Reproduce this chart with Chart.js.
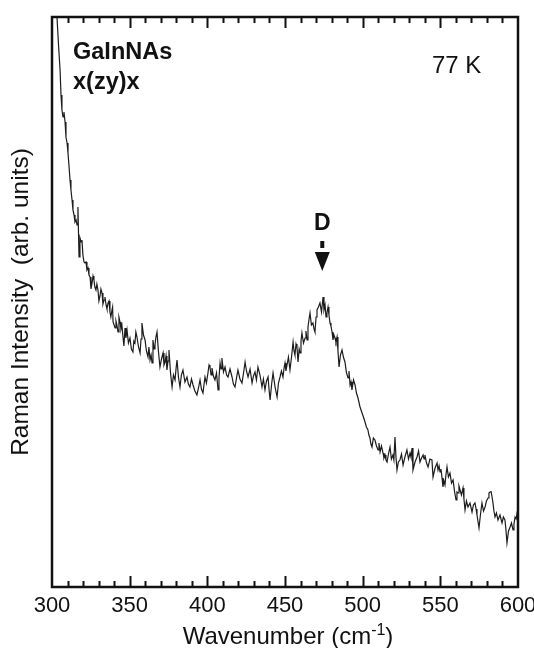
<!DOCTYPE html>
<html>
<head>
<meta charset="utf-8">
<script src="https://cdn.jsdelivr.net/npm/chart.js@4.4.1/dist/chart.umd.min.js"></script>
<style>
    body   { margin: 0; background: #fff; }
    canvas { display: block; }
</style>
</head>
<body>
<canvas id="raman_graph" width="534" height="648"></canvas>
<script>
// Raman spectrum, wavenumber in cm-1, intensity in arb. units
const wavenumbers = [
    301.3, 303.2, 304.2, 305.2, 305.8, 306.4, 307.1, 307.7, 308.4, 309.0,
    309.7, 310.3, 310.9, 311.6, 312.2, 312.9, 313.5, 314.2, 314.8, 315.5,
    316.1, 316.7, 317.4, 318.0, 318.7, 319.3, 319.9, 320.6, 321.2, 321.9,
    322.5, 323.2, 323.8, 324.5, 325.1, 325.8, 326.4, 327.0, 327.6, 328.3,
    328.9, 329.6, 330.2, 330.9, 331.5, 332.2, 332.8, 333.5, 334.1, 334.8,
    335.4, 336.1, 336.7, 337.3, 337.9, 338.6, 339.0, 339.3, 340.0, 340.6,
    341.2, 341.8, 342.5, 343.1, 343.8, 344.4, 345.0, 345.7, 346.3, 347.0,
    347.6, 348.3, 349.2, 350.2, 351.1, 352.1, 352.7, 353.4, 354.0, 354.7,
    355.7, 356.7, 357.3, 357.9, 358.9, 359.9, 360.8, 361.8, 362.4, 363.1,
    363.8, 364.4, 365.0, 365.7, 366.3, 366.9, 367.6, 368.5, 369.5, 370.5,
    371.5, 372.1, 372.8, 373.4, 374.0, 374.7, 375.3, 376.3, 377.3, 378.2,
    379.2, 379.9, 380.5, 381.4, 382.4, 383.3, 384.3, 385.6, 386.9, 387.8,
    388.8, 389.8, 390.8, 392.0, 393.3, 394.3, 395.3, 396.2, 397.2, 397.9,
    398.5, 399.4, 400.4, 401.1, 401.7, 402.4, 403.0, 403.9, 404.9, 405.9,
    406.9, 407.5, 408.2, 408.8, 409.4, 410.4, 411.4, 412.4, 413.3, 414.6,
    415.9, 416.8, 417.8, 418.8, 419.7, 421.0, 422.3, 423.3, 424.3, 425.2,
    426.2, 427.5, 428.8, 429.7, 430.7, 431.6, 432.6, 433.9, 435.2, 436.1,
    437.1, 438.1, 439.1, 439.7, 440.4, 441.4, 442.3, 443.6, 444.9, 445.8,
    446.8, 447.7, 448.7, 449.4, 450.0, 450.6, 451.3, 452.2, 453.2, 454.2,
    455.2, 455.8, 456.4, 457.1, 457.7, 458.4, 459.1, 459.7, 460.3, 460.9,
    461.9, 462.9, 463.5, 464.2, 464.8, 465.5, 466.1, 467.0, 468.0, 468.7,
    469.3, 470.0, 470.6, 471.5, 472.5, 473.5, 474.5, 475.1, 475.8, 476.4,
    477.0, 477.7, 478.3, 479.0, 479.6, 480.3, 480.9, 481.5, 482.2, 482.8,
    483.5, 484.1, 484.8, 485.7, 486.7, 487.6, 488.6, 489.6, 490.6, 491.2,
    491.9, 492.5, 493.1, 494.1, 495.1, 496.0, 497.0, 498.3, 499.6, 500.5,
    501.5, 502.4, 503.4, 504.0, 504.7, 505.3, 506.0, 506.9, 507.9, 508.9,
    509.9, 510.5, 511.2, 512.1, 513.1, 513.7, 514.4, 515.0, 515.7, 516.6,
    517.6, 518.5, 519.5, 520.1, 520.8, 521.4, 522.1, 523.0, 524.0, 525.0,
    526.0, 527.2, 528.5, 529.5, 530.5, 531.1, 531.8, 532.4, 533.7, 535.0,
    536.0, 536.9, 537.9, 538.9, 539.5, 540.1, 541.1, 542.1, 543.3, 544.6,
    545.3, 546.6, 547.9, 548.5, 549.2, 549.8, 550.4, 551.1, 551.7, 552.3,
    553.0, 553.6, 554.3, 555.2, 556.2, 557.2, 558.2, 559.1, 560.1, 560.7,
    561.4, 562.0, 562.7, 563.6, 564.6, 565.2, 565.9, 566.8, 567.8, 569.1,
    570.4, 571.3, 572.3, 573.0, 573.6, 574.2, 574.9, 575.8, 576.8, 577.8,
    578.8, 579.7, 580.7, 581.3, 582.0, 582.6, 583.2, 583.9, 584.5, 585.2,
    586.1, 587.1, 588.4, 589.7, 590.6, 591.6, 592.2, 592.9, 593.9, 594.9,
    595.8, 596.8, 597.4, 598.1, 598.8, 599.4, 600.0
];
const intensities = [
    607, 570, 542, 517, 492, 477, 470, 475, 465, 450,
    444, 434, 422, 407, 397, 387, 377, 372, 365, 367,
    362, 380, 330, 349, 345, 347, 332, 325, 324, 325,
    317, 319, 312, 310, 298, 304, 311, 307, 300, 297,
    303, 297, 286, 291, 298, 294, 283, 287, 290, 282,
    278, 284, 286, 275, 270, 277, 280, 265, 262, 259,
    266, 262, 255, 270, 265, 258, 262, 250, 241, 259,
    249, 257, 244, 249, 238, 235, 246, 244, 255, 250,
    240, 234, 248, 264, 252, 247, 236, 230, 240, 227,
    232, 224, 247, 238, 242, 250, 255, 236, 220, 228,
    234, 222, 225, 231, 217, 226, 237, 214, 200, 212,
    207, 219, 227, 210, 200, 212, 217, 205, 210, 203,
    200, 208, 202, 196, 192, 199, 207, 198, 194, 203,
    210, 204, 214, 222, 220, 212, 219, 211, 207, 214,
    197, 209, 224, 218, 229, 215, 220, 212, 210, 218,
    210, 203, 200, 209, 217, 208, 204, 214, 225, 216,
    210, 218, 204, 211, 215, 207, 220, 212, 200, 208,
    197, 206, 210, 198, 187, 203, 214, 200, 190, 204,
    210, 216, 210, 219, 224, 216, 222, 230, 217, 230,
    245, 236, 232, 243, 240, 225, 238, 234, 246, 254,
    244, 249, 256, 247, 260, 268, 274, 262, 264, 258,
    255, 270, 277, 280, 284, 275, 290, 277, 282, 270,
    274, 280, 272, 264, 261, 255, 247, 252, 249, 245,
    250, 236, 220, 232, 237, 230, 225, 214, 209, 216,
    202, 205, 197, 207, 202, 194, 189, 180, 174, 170,
    165, 160, 157, 152, 149, 143, 140, 149, 147, 141,
    137, 144, 135, 141, 134, 129, 132, 127, 125, 133,
    140, 128, 132, 127, 150, 131, 117, 125, 127, 133,
    122, 130, 137, 128, 134, 130, 139, 117, 125, 130,
    136, 125, 129, 132, 128, 132, 124, 120, 128, 127,
    110, 119, 124, 117, 121, 115, 118, 109, 100, 106,
    102, 112, 120, 110, 114, 104, 107, 96, 87, 95,
    94, 101, 97, 92, 99, 88, 77, 86, 80, 84,
    75, 82, 84, 78, 72, 66, 59, 72, 84, 76,
    80, 86, 89, 94, 95, 96, 91, 84, 76, 70,
    74, 67, 72, 64, 70, 67, 58, 44, 56, 60,
    64, 57, 63, 70, 68, 74, 72
];

const x_min        = 300;
const x_max        = 600;
const y_max        = 570;
const major_step   = 50;
const minor_step   = 10;

const sample_name  = "GaInNAs";
const geometry     = "x(zy)x";
const temperature  = "77 K";
const peak_name    = "D";
const peak_pos     = 474;

const font_family  = "'Liberation Sans', Arial, Helvetica, sans-serif";

// frame, inward ticks top and bottom, labels and the D arrow
const decor_plugin = {
    id: "decor",
    afterDraw(chart){
        const ctx  = chart.ctx;
        const area = chart.chartArea;
        const xs   = chart.scales.x;

        ctx.save();
        ctx.strokeStyle = "#111";
        ctx.lineWidth   = 2;
        for (let v = x_min + minor_step; v < x_max; v += minor_step){
            let px  = Math.round(xs.getPixelForValue(v)) + 0.5;
            let len = (v % major_step === 0) ? 11 : 6;
            ctx.beginPath();
            ctx.moveTo(px, area.bottom);
            ctx.lineTo(px, area.bottom - len);
            ctx.moveTo(px, area.top);
            ctx.lineTo(px, area.top + len);
            ctx.stroke();
        }
        ctx.lineWidth = 2.5;
        ctx.strokeRect(area.left, area.top, area.right - area.left, area.bottom - area.top);

        ctx.fillStyle    = "#111";
        ctx.textBaseline = "alphabetic";
        ctx.textAlign    = "left";
        ctx.font = "bold 23.5px " + font_family;
        ctx.fillText(sample_name, 73, 59);
        ctx.fillText(geometry, 73, 89);
        ctx.font = "24px " + font_family;
        ctx.fillText(temperature, 432, 73);

        // peak marker
        let px = xs.getPixelForValue(peak_pos);
        ctx.font = "bold 23px " + font_family;
        ctx.textAlign = "center";
        ctx.fillText(peak_name, px, 230);
        ctx.fillRect(px - 2, 241, 4, 7);
        ctx.beginPath();
        ctx.moveTo(px - 7.5, 252);
        ctx.lineTo(px + 7.5, 252);
        ctx.lineTo(px, 271);
        ctx.closePath();
        ctx.fill();

        // x axis title with superscript
        ctx.textAlign = "left";
        let main  = "Wavenumber (cm";
        ctx.font  = "16px " + font_family;
        let sup_w = ctx.measureText("-1").width;
        ctx.font  = "24px " + font_family;
        let total = ctx.measureText(main).width + sup_w + ctx.measureText(")").width;
        let tx    = (area.left + area.right) / 2 + 3 - total / 2;
        ctx.fillText(main, tx, 644);
        tx += ctx.measureText(main).width;
        ctx.font = "16px " + font_family;
        ctx.fillText("-1", tx, 635);
        tx += sup_w;
        ctx.font = "24px " + font_family;
        ctx.fillText(")", tx, 644);
        ctx.restore();
    }
};

const points = [];
for (let i = 0; i < wavenumbers.length; i++){
    points.push({x: wavenumbers[i], y: intensities[i]});
}

const ctx     = document.getElementById("raman_graph").getContext("2d");
const myChart = new Chart(ctx, {
    type: "line",
    data: {
        datasets: [{
            data: points,
            borderColor: "#1c1c1c",
            borderWidth: 1.2,
            pointRadius: 0,
            tension: 0
        }]
    },
    options: {
        responsive: false,
        animation: false,
        layout: {
            padding: {top: 17, right: 16, bottom: 0, left: 0}
        },
        scales: {
            x: {
                type: "linear",
                min: x_min,
                max: x_max,
                grid: {display: false},
                border: {display: false},
                ticks: {
                    stepSize: major_step,
                    color: "#111",
                    padding: -2,
                    maxRotation: 0,
                    font: {family: font_family, size: 22}
                },
                afterFit(scale){
                    scale.height       = 61;
                    scale.paddingLeft  = 0;
                    scale.paddingRight = 0;
                }
            },
            y: {
                min: 0,
                max: y_max,
                grid: {display: false},
                border: {display: false},
                ticks: {display: false},
                title: {
                    display: true,
                    text: "Raman Intensity  (arb. units)",
                    color: "#111",
                    padding: {top: 7, bottom: 0},
                    font: {family: font_family, size: 24.5, weight: "normal"}
                },
                afterFit(scale){
                    scale.width = 52;
                }
            }
        },
        plugins: {
            legend: {display: false},
            tooltip: {enabled: false}
        }
    },
    plugins: [decor_plugin]
});
</script>
</body>
</html>
